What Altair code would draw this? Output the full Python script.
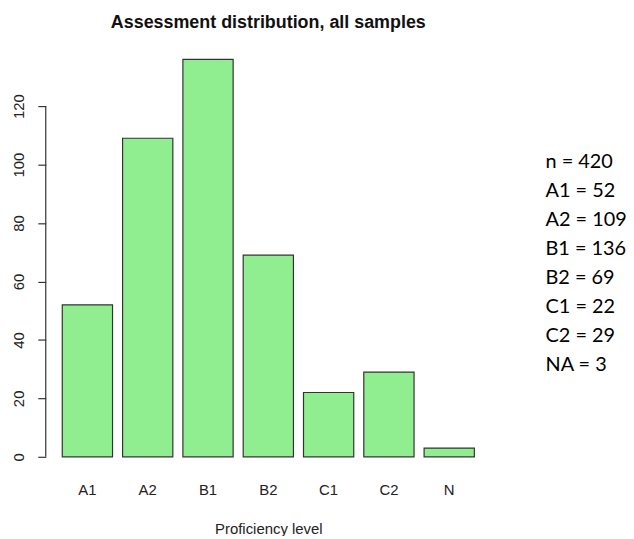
import altair as alt
import pandas as pd

categories = ["A1", "A2", "B1", "B2", "C1", "C2", "N"]
counts = [52, 109, 136, 69, 22, 29, 3]
y_ticks = [0, 20, 40, 60, 80, 100, 120]
summary_lines = ["n = 420", "A1 = 52", "A2 = 109", "B1 = 136", "B2 = 69",
                 "C1 = 22", "C2 = 29", "NA = 3"]

df = pd.DataFrame({"level": categories, "count": counts})
ymax = max(counts)
ydom = [-0.04 * ymax, 1.04 * ymax]

x_enc = alt.X("level:N", sort=categories,
              scale=alt.Scale(paddingInner=1/6, paddingOuter=0.274, round=False),
              axis=alt.Axis(title="Proficiency level", labelAngle=0, domain=False,
                            ticks=False, labelPadding=10, labelFontSize=15,
                            labelFont="Liberation Sans", labelColor="#222",
                            titleFont="Liberation Sans", titleFontSize=15,
                            titleFontWeight="normal", titleColor="#222",
                            titlePadding=24))
y_scale = alt.Scale(domain=ydom, nice=False, zero=False)

bars = alt.Chart(df).mark_bar(color="#90EE90", stroke="#333333", strokeWidth=1.2).encode(
    x=x_enc,
    y=alt.Y("count:Q", scale=y_scale,
            axis=alt.Axis(title=None, values=y_ticks, domain=False, grid=False,
                          tickSize=8, tickColor="#333", tickWidth=1.2,
                          labelAngle=-90, labelAlign="center",
                          labelBaseline="bottom", labelPadding=11,
                          labelFontSize=15, labelFont="Liberation Sans",
                          labelColor="#222")),
    y2=alt.datum(0),
)

axis_line = alt.Chart(pd.DataFrame({"a": [0]})).mark_rule(color="#333", strokeWidth=1.2).encode(
    x=alt.value(0),
    y=alt.datum(y_ticks[0], scale=y_scale),
    y2=alt.datum(y_ticks[-1]),
)

summary = alt.Chart(pd.DataFrame({"t": [summary_lines]})).mark_text(
    align="left", baseline="top", font="Lato", fontSize=20, lineHeight=29.3,
    color="#000"
).encode(
    text="t",
    x=alt.value(503),
    y=alt.value(109),
)

chart = alt.layer(bars, axis_line, summary).properties(
    width=448, height=432,
    title=alt.TitleParams("Assessment distribution, all samples",
                          font="Liberation Sans", fontSize=18, fontWeight="bold",
                          anchor="middle", offset=12, color="#111"),
    autosize=alt.AutoSizeParams(type="none"),
    padding={"left": 38, "top": 34, "right": 136, "bottom": 62},
).configure_view(stroke=None)

chart.save("out.html", embed_options={"renderer": "svg", "actions": False})
